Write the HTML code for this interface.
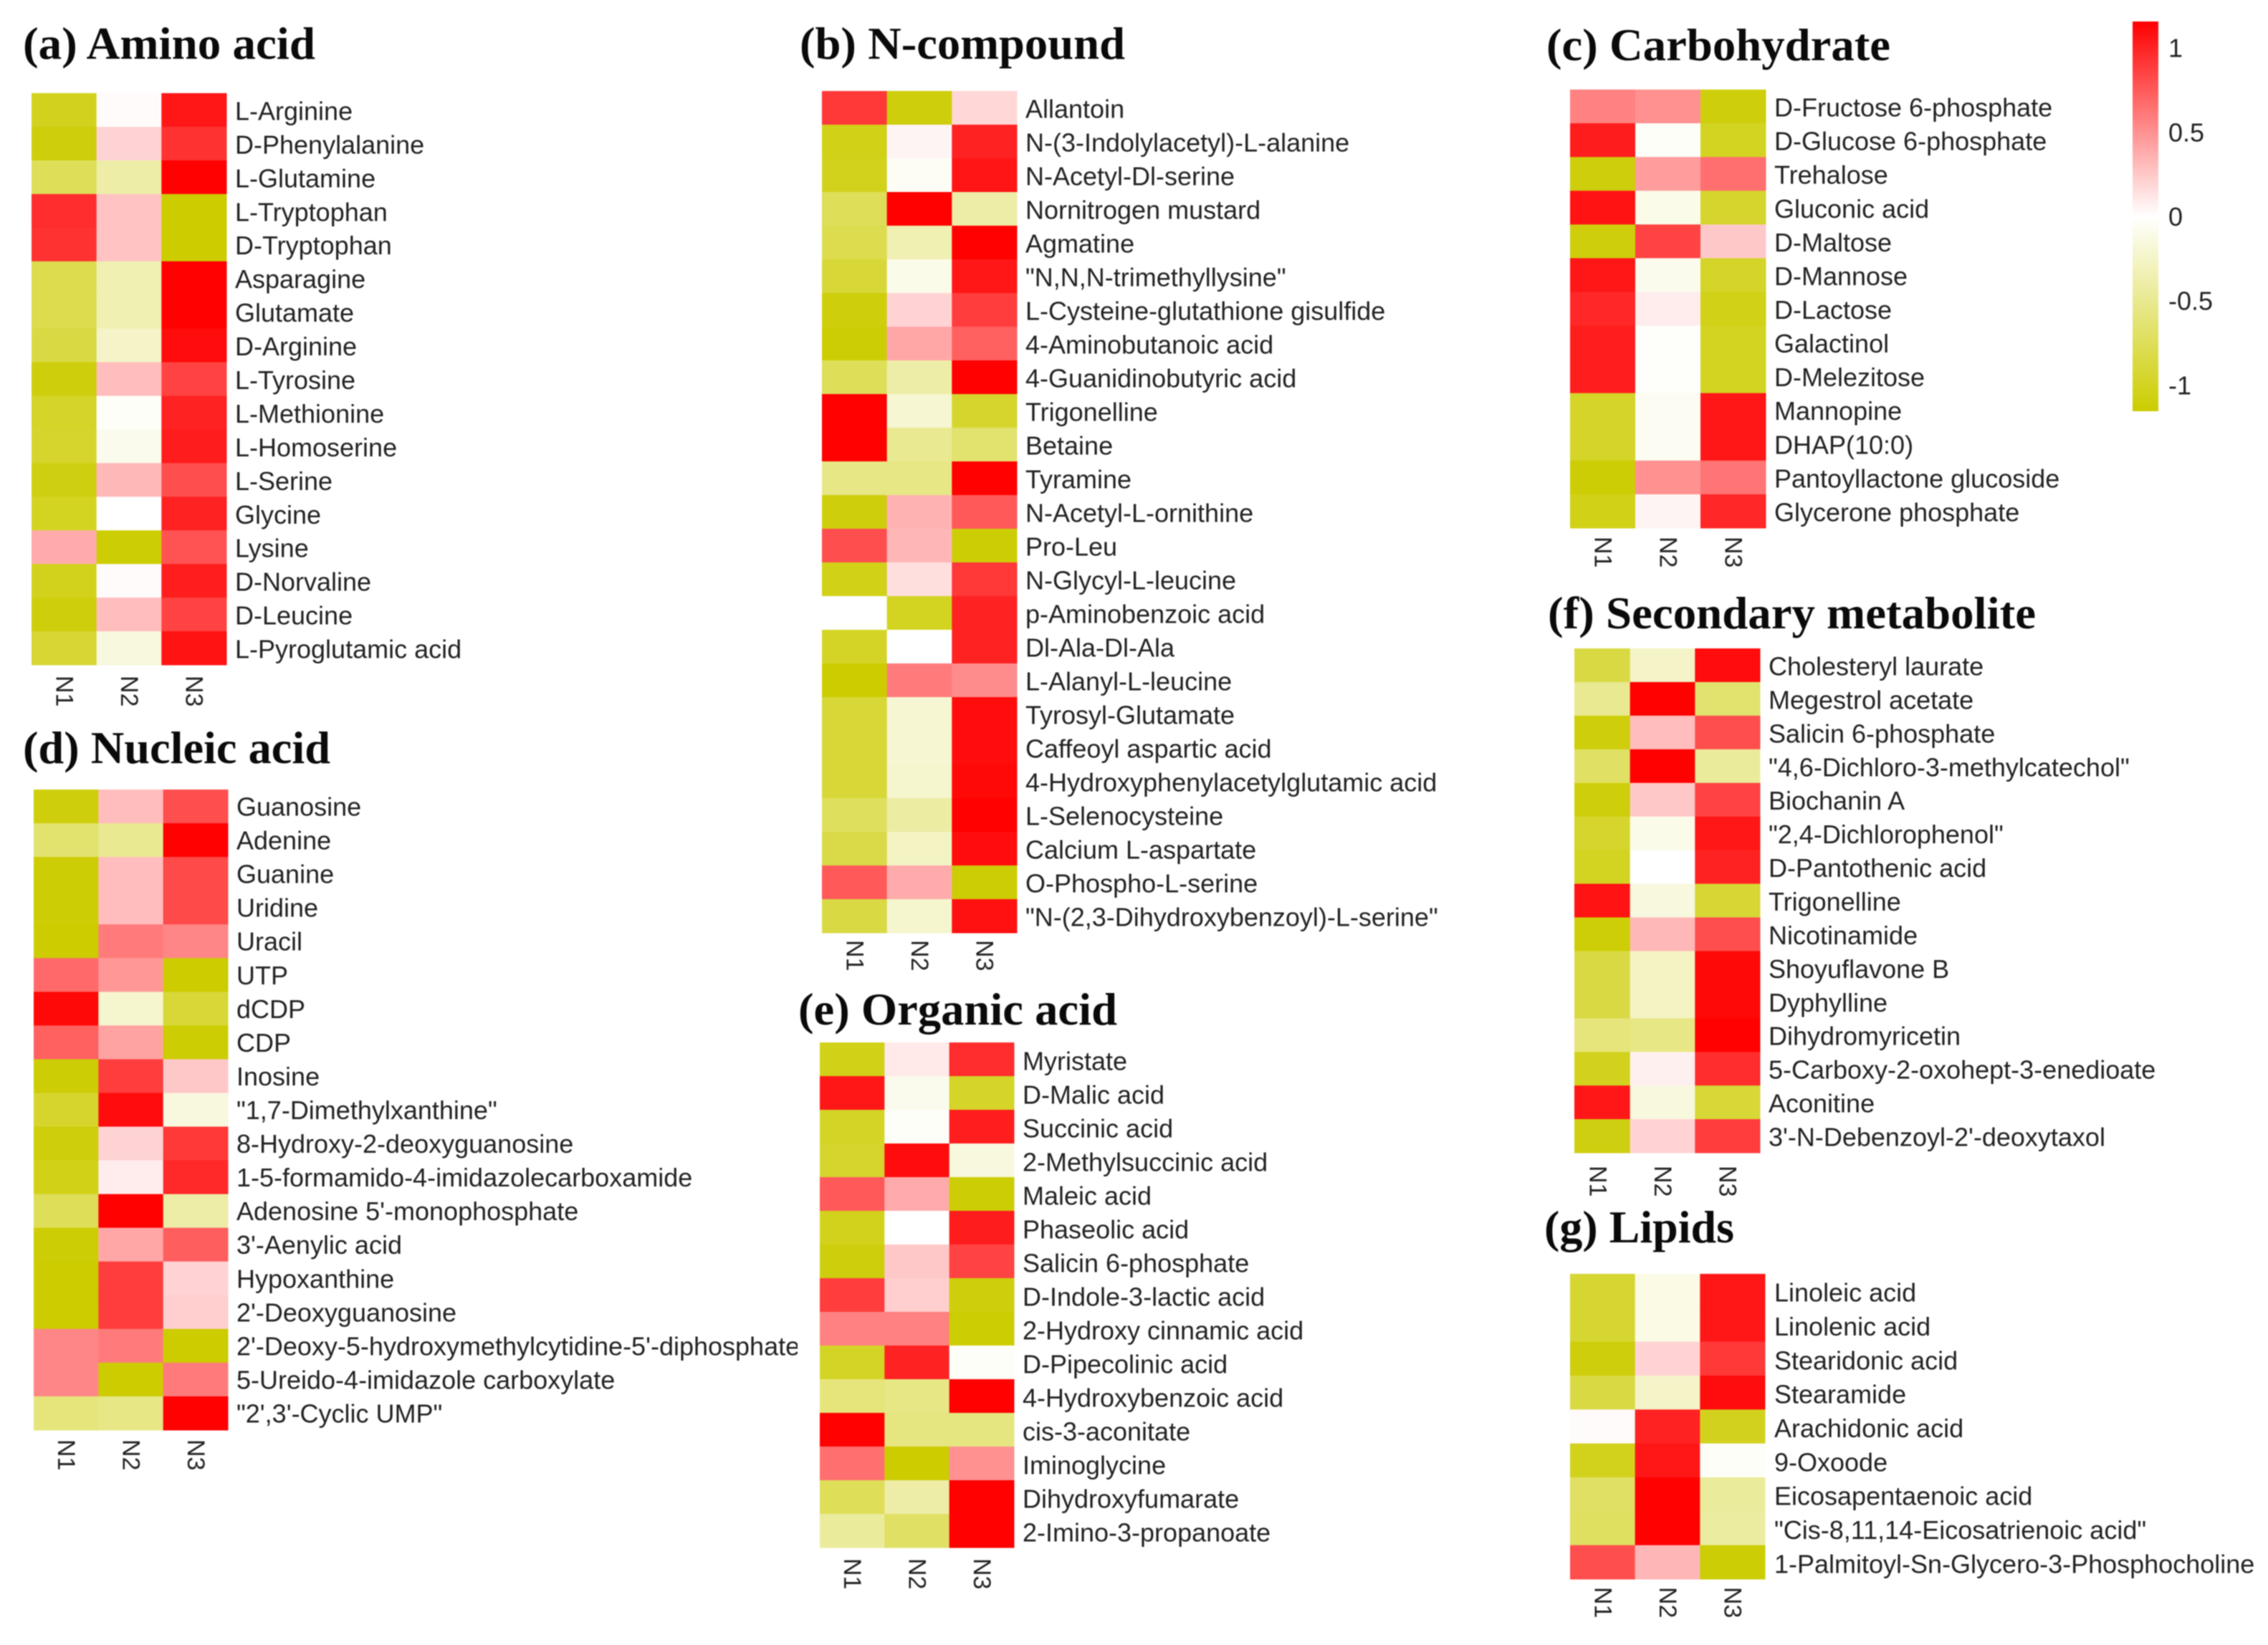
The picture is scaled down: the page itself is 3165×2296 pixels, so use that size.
<!DOCTYPE html>
<html lang="en">
<head>
<meta charset="utf-8">
<title>Metabolite heatmaps</title>
<style>
html,body{margin:0;padding:0;background:#fff;width:3165px;height:2296px;overflow:hidden}
svg{display:block;filter:blur(0.7px)}
.title{font-family:"Liberation Serif",serif;font-weight:bold;font-size:64px;fill:#0a0a0a}
.label{font-family:"Liberation Sans",sans-serif;font-size:36px;fill:#222}
.col{font-family:"Liberation Sans",sans-serif;font-size:34px;fill:#222}
</style>
</head>
<body>
<svg id="chart" xmlns="http://www.w3.org/2000/svg" width="3165" height="2296" viewBox="0 0 3165 2296">
  <defs>
    <clipPath id="clip-d"><rect x="0" y="1090" width="1113" height="940"></rect></clipPath>
  </defs>
  <rect x="0" y="0" width="3165" height="2296" fill="#fff"></rect>
  <text class="title" x="32" y="82" textLength="408" lengthAdjust="spacingAndGlyphs">(a) Amino acid</text>
  <text class="title" x="1116" y="82" textLength="454" lengthAdjust="spacingAndGlyphs">(b) N-compound</text>
  <text class="title" x="2158" y="84" textLength="480" lengthAdjust="spacingAndGlyphs">(c) Carbohydrate</text>
  <text class="title" x="32" y="1065" textLength="429" lengthAdjust="spacingAndGlyphs">(d) Nucleic acid</text>
  <text class="title" x="1114" y="1430" textLength="445" lengthAdjust="spacingAndGlyphs">(e) Organic acid</text>
  <text class="title" x="2160" y="877" textLength="681" lengthAdjust="spacingAndGlyphs">(f) Secondary metabolite</text>
  <text class="title" x="2155" y="1734" textLength="265" lengthAdjust="spacingAndGlyphs">(g) Lipids</text>
</svg>
<script>
const colNames = ['N1', 'N2', 'N3'];
const legendTicks = [1, 0.5, 0, -0.5, -1];
const legendMax = 1.155;

const aminoLabels = ['L-Arginine','D-Phenylalanine','L-Glutamine','L-Tryptophan','D-Tryptophan','Asparagine','Glutamate','D-Arginine','L-Tyrosine','L-Methionine','L-Homoserine','L-Serine','Glycine','Lysine','D-Norvaline','D-Leucine','L-Pyroglutamic acid'];
const aminoN1 = [-1.02,-1.1,-.75,.95,.93,-.8,-.8,-.85,-1.1,-.97,-.95,-1.08,-1.0,.38,-1.03,-1.1,-.92];
const aminoN2 = [.02,.2,-.4,.27,.27,-.35,-.35,-.25,.3,-.03,-.08,.32,0,-1.13,.02,.3,-.15];
const aminoN3 = [1.05,.93,1.15,-1.15,-1.15,1.15,1.15,1.1,.85,1,1.03,.8,1,.78,1.02,.85,1.07];

const nitroLabels = ['Allantoin','N-(3-Indolylacetyl)-L-alanine','N-Acetyl-Dl-serine','Nornitrogen mustard','Agmatine','"N,N,N-trimethyllysine"','L-Cysteine-glutathione gisulfide','4-Aminobutanoic acid','4-Guanidinobutyric acid','Trigonelline','Betaine','Tyramine','N-Acetyl-L-ornithine','Pro-Leu','N-Glycyl-L-leucine','p-Aminobenzoic acid','Dl-Ala-Dl-Ala','L-Alanyl-L-leucine','Tyrosyl-Glutamate','Caffeoyl aspartic acid','4-Hydroxyphenylacetylglutamic acid','L-Selenocysteine','Calcium L-aspartate','O-Phospho-L-serine','"N-(2,3-Dihydroxybenzoyl)-L-serine"'];
const nitroN1 = [.9,-1.05,-1.03,-.75,-.8,-.9,-1.1,-1.13,-.75,1.15,1.15,-.55,-1.1,.8,-1.05,0,-.98,-1.15,-.9,-.9,-.9,-.73,-.83,.75,-.85];
const nitroN2 = [-1.1,.05,-.04,1.15,-.35,-.1,.2,.4,-.4,-.2,-.5,-.55,.35,.33,.15,-1,0,.6,-.2,-.2,-.22,-.42,-.27,.38,-.22];
const nitroN3 = [.18,1,1.06,-.4,1.15,1.05,.88,.72,1.15,-.95,-.65,1.15,.75,-1.13,.9,1,1,.52,1.1,1.1,1.12,1.15,1.1,-1.13,1.08];

const carbLabels = ['D-Fructose 6-phosphate','D-Glucose 6-phosphate','Trehalose','Gluconic acid','D-Maltose','D-Mannose','D-Lactose','Galactinol','D-Melezitose','Mannopine','DHAP(10:0)','Pantoyllactone glucoside','Glycerone phosphate'];
const carbN1 = [.57,1.03,-1.1,1.07,-1.1,1.05,.98,1.02,1.02,-.97,-.97,-1.13,-1.05];
const carbN2 = [.5,-.03,.45,-.1,.85,-.08,.08,-.02,-.02,-.06,-.06,.5,.05];
const carbN3 = [-1.1,-1,.65,-.95,.25,-.97,-1.05,-1,-1,1.05,1.05,.63,.98];

const nucleicLabels = ['Guanosine','Adenine','Guanine','Uridine','Uracil','UTP','dCDP','CDP','Inosine','"1,7-Dimethylxanthine"','8-Hydroxy-2-deoxyguanosine','1-5-formamido-4-imidazolecarboxamide',"Adenosine 5'-monophosphate","3'-Aenylic acid",'Hypoxanthine',"2'-Deoxyguanosine","2'-Deoxy-5-hydroxymethylcytidine-5'-diphosphate",'5-Ureido-4-imidazole carboxylate','"2\',3\'-Cyclic UMP"'];
const nucleicN1 = [-1.1,-.65,-1.13,-1.13,-1.15,.68,1.12,.72,-1.13,-.95,-1.1,-1.05,-.75,-1.13,-1.15,-1.15,.55,.55,-.6];
const nucleicN2 = [.3,-.5,.3,.3,.6,.47,-.22,.42,.88,1.1,.2,.08,1.15,.4,.88,.88,.6,-1.15,-.55];
const nucleicN3 = [.8,1.15,.82,.82,.55,-1.15,-.9,-1.14,.25,-.15,.9,.97,-.4,.73,.2,.22,-1.15,.6,1.15];

const organicLabels = ['Myristate','D-Malic acid','Succinic acid','2-Methylsuccinic acid','Maleic acid','Phaseolic acid','Salicin 6-phosphate','D-Indole-3-lactic acid','2-Hydroxy cinnamic acid','D-Pipecolinic acid','4-Hydroxybenzoic acid','cis-3-aconitate','Iminoglycine','Dihydroxyfumarate','2-Imino-3-propanoate'];
const organicN1 = [-1.05,1.05,-.98,-.95,.75,-1.03,-1.1,.88,.57,-.98,-.6,1.15,.65,-.75,-.45];
const organicN2 = [.1,-.08,-.03,1.1,.38,0,.25,.22,.57,1,-.55,-.57,-1.15,-.4,-.7];
const organicN3 = [.95,-.97,1.02,-.15,-1.13,1.03,.85,-1.1,-1.14,-.03,1.15,-.57,.5,1.15,1.15];

const secondaryLabels = ['Cholesteryl laurate','Megestrol acetate','Salicin 6-phosphate','"4,6-Dichloro-3-methylcatechol"','Biochanin A','"2,4-Dichlorophenol"','D-Pantothenic acid','Trigonelline','Nicotinamide','Shoyuflavone B','Dyphylline','Dihydromyricetin','5-Carboxy-2-oxohept-3-enedioate','Aconitine',"3'-N-Debenzoyl-2'-deoxytaxol"];
const secondaryN1 = [-.85,-.5,-1.1,-.7,-1.1,-.95,-1,1.07,-1.12,-.85,-.85,-.6,-1.02,1.05,-1.08];
const secondaryN2 = [-.25,1.15,.3,1.15,.25,-.1,0,-.15,.32,-.27,-.27,-.55,.07,-.15,.2];
const secondaryN3 = [1.1,-.65,.8,-.45,.85,1.05,1,-.92,.8,1.12,1.12,1.15,.95,-.9,.88];

const lipidLabels = ['Linoleic acid','Linolenic acid','Stearidonic acid','Stearamide','Arachidonic acid','9-Oxoode','Eicosapentaenoic acid','"Cis-8,11,14-Eicosatrienoic acid"','1-Palmitoyl-Sn-Glycero-3-Phosphocholine'];
const lipidN1 = [-.93,-.93,-1.1,-.85,.02,-1.03,-.7,-.72,.8];
const lipidN2 = [-.12,-.12,.2,-.25,1,1.05,1.15,1.15,.33];
const lipidN3 = [1.05,1.05,.9,1.1,-1.02,-.03,-.45,-.43,-1.13];

const svgNS = 'http://www.w3.org/2000/svg';
const chart = document.getElementById('chart');

function colorScale(v) {
  const t = Math.max(-1, Math.min(1, v / legendMax));
  const mix = (a, b, k) => Math.round(a + (b - a) * k);
  if (t >= 0) {
    return 'rgb(255,' + mix(255, 0, t) + ',' + mix(255, 0, t) + ')';
  }
  return 'rgb(' + mix(255, 204, -t) + ',' + mix(255, 204, -t) + ',' + mix(255, 0, -t) + ')';
}

function drawPanel(p) {
  const g = document.createElementNS(svgNS, 'g');
  
  
  chart.appendChild(g);
  const series = [p.n1, p.n2, p.n3];
  const rowH = (p.y1 - p.y0) / p.labels.length;
  const colW = (p.x1 - p.x0) / colNames.length;
  const xScale = c => p.x0 + c * colW;
  const yScale = r => p.y0 + r * rowH;
  series.forEach((values, c) => {
    values.forEach((v, r) => {
      const left = Math.max(xScale(c), p.clipLeft || 0);
      const rect = document.createElementNS(svgNS, 'rect');
      
      
      rect.setAttribute('x', left);
      rect.setAttribute('y', yScale(r));
      rect.setAttribute('width', xScale(c + 1) - left + 0.5);
      rect.setAttribute('height', rowH + 0.5);
      rect.setAttribute('fill', colorScale(v));
      g.appendChild(rect);
    });
  });
  p.labels.forEach((name, r) => {
    const t = document.createElementNS(svgNS, 'text');
    
    
    t.setAttribute('class', 'label');
    t.setAttribute('x', p.labelX);
    t.setAttribute('y', yScale(r) + rowH / 2 + 13 + (p.labelDy || 0));
    if (p.clip) t.setAttribute('clip-path', p.clip);
    t.textContent = name;
    g.appendChild(t);
  });
  colNames.forEach((name, c) => {
    const t = document.createElementNS(svgNS, 'text');
    
    
    t.setAttribute('class', 'col');
    const cx = xScale(c) + colW / 2 - 11;
    t.setAttribute('transform', 'translate(' + cx + ',' + p.colLabelY + ') rotate(90)');
    t.textContent = name;
    g.appendChild(t);
  });
}

drawPanel({key:'amino', labels:aminoLabels, n1:aminoN1, n2:aminoN2, n3:aminoN3, x0:44, x1:316, y0:130, y1:928, labelX:328, colLabelY:943, labelDy:1});
drawPanel({key:'n-compound', labels:nitroLabels, n1:nitroN1, n2:nitroN2, n3:nitroN3, x0:1147, x1:1419, y0:127, y1:1302, labelX:1431, colLabelY:1312, labelDy:1});
drawPanel({key:'carbohydrate', labels:carbLabels, n1:carbN1, n2:carbN2, n3:carbN3, x0:2191, x1:2464, y0:125, y1:737, labelX:2476, colLabelY:749, labelDy:1});
drawPanel({key:'nucleic-acid', labels:nucleicLabels, n1:nucleicN1, n2:nucleicN2, n3:nucleicN3, x0:47, x1:318, y0:1102, y1:1996, labelX:330, colLabelY:2009, clip:'url(#clip-d)', labelDy:0});
drawPanel({key:'organic-acid', labels:organicLabels, n1:organicN1, n2:organicN2, n3:organicN3, x0:1144, x1:1415, y0:1455, y1:2160, labelX:1427, colLabelY:2175, labelDy:2});
drawPanel({key:'secondary-metabolite', labels:secondaryLabels, n1:secondaryN1, n2:secondaryN2, n3:secondaryN3, x0:2184, x1:2456, clipLeft:2197, y0:905, y1:1609, labelX:2468, colLabelY:1627, labelDy:1});
drawPanel({key:'lipids', labels:lipidLabels, n1:lipidN1, n2:lipidN2, n3:lipidN3, x0:2191, x1:2463, y0:1778, y1:2204, labelX:2476, colLabelY:2215, labelDy:2});

/* colour legend */
const legendBox = {x:2976, w:36, y0:30, y1:574};
const legendY = v => legendBox.y0 + (legendMax - v) / (2 * legendMax) * (legendBox.y1 - legendBox.y0);

const defs = chart.querySelector('defs');
const grad = document.createElementNS(svgNS, 'linearGradient');
grad.setAttribute('id', 'legend-gradient');
grad.setAttribute('x1', '0');
grad.setAttribute('y1', '0');
grad.setAttribute('x2', '0');
grad.setAttribute('y2', '1');
[legendMax, 0, -legendMax].forEach((v, i) => {
  const stop = document.createElementNS(svgNS, 'stop');
  stop.setAttribute('offset', (i * 50) + '%');
  stop.setAttribute('stop-color', colorScale(v));
  grad.appendChild(stop);
});
defs.appendChild(grad);

const legendBar = document.createElementNS(svgNS, 'rect');


legendBar.setAttribute('x', legendBox.x);
legendBar.setAttribute('y', legendBox.y0);
legendBar.setAttribute('width', legendBox.w);
legendBar.setAttribute('height', legendBox.y1 - legendBox.y0);
legendBar.setAttribute('fill', 'url(#legend-gradient)');
chart.appendChild(legendBar);

legendTicks.forEach(v => {
  const t = document.createElementNS(svgNS, 'text');
  
  
  t.setAttribute('class', 'label');
  t.setAttribute('x', 3026);
  t.setAttribute('y', legendY(v) + 13);
  t.textContent = String(v);
  chart.appendChild(t);
});
</script>
</body>
</html>
